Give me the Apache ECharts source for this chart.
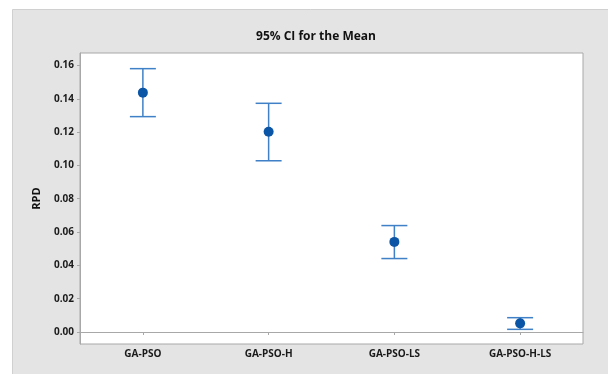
<!DOCTYPE html>
<html>
<head>
<meta charset="utf-8">
<script src="https://cdn.jsdelivr.net/npm/echarts@6/dist/echarts.min.js"></script>
<style>
  html, body { margin: 0; padding: 0; background: #ffffff; }
  #chart { width: 608px; height: 374px; }
</style>
</head>
<body>
<div id="chart"></div>
<script>
// Interval plot: mean RPD with 95% confidence interval per algorithm
const categories = ['GA-PSO', 'GA-PSO-H', 'GA-PSO-LS', 'GA-PSO-H-LS'];
const means = [0.1437, 0.1202, 0.0541, 0.0052];
const lowerCI = [0.1293, 0.1028, 0.0441, 0.0016];
const upperCI = [0.1581, 0.1373, 0.0639, 0.0086];
const yTicks = [0.00, 0.02, 0.04, 0.06, 0.08, 0.10, 0.12, 0.14, 0.16];

const FONT = '"Open Sans", "Noto Sans", sans-serif';
const chart = echarts.init(document.getElementById('chart'), null, { renderer: 'canvas' });

const intervalData = categories.map((c, i) => [i, lowerCI[i], upperCI[i]]);
const meanData = categories.map((c, i) => [i, means[i]]);

chart.setOption({
  animation: false,
  backgroundColor: '#ffffff',
  graphic: [{
    type: 'rect',
    z: -10,
    silent: true,
    shape: { x: 12.5, y: 9.5, width: 600, height: 370 },
    style: { fill: '#e4e4e4', stroke: '#d0d0d0', lineWidth: 1 }
  }],
  title: {
    text: '95% CI for the Mean',
    left: 311,
    textAlign: 'center',
    top: 26,
    textStyle: { fontFamily: FONT, fontSize: 12, fontWeight: 'bold', color: '#111' }
  },
  grid: {
    left: 80, top: 53, right: 25, bottom: 30,
    show: true,
    backgroundColor: '#ffffff',
    borderColor: '#a8a8a8',
    borderWidth: 1
  },
  xAxis: {
    type: 'category',
    data: categories,
    axisLine: { show: true, lineStyle: { color: '#a8a8a8' } },
    axisTick: { show: true, alignWithLabel: true, length: 3, lineStyle: { color: '#a8a8a8' } },
    axisLabel: { fontFamily: FONT, fontSize: 10, fontWeight: 'bold', color: '#1a1a1a', margin: 5 },
    splitLine: { show: false }
  },
  yAxis: {
    type: 'value',
    min: -0.0072,
    max: 0.1675,
    name: 'RPD',
    nameLocation: 'middle',
    nameGap: 38,
    nameRotate: 90,
    nameTextStyle: { fontFamily: FONT, fontSize: 11, fontWeight: 'bold', color: '#111' },
    axisLine: { show: true, lineStyle: { color: '#a8a8a8' } },
    axisTick: { show: true, length: 3, customValues: yTicks, lineStyle: { color: '#a8a8a8' } },
    axisLabel: {
      customValues: yTicks,
      fontFamily: FONT, fontSize: 10, fontWeight: 'bold', color: '#1a1a1a', margin: 6,
      formatter: v => v.toFixed(2)
    },
    splitLine: { show: false }
  },
  series: [
    {
      type: 'custom',
      name: '95% CI',
      data: intervalData,
      encode: { x: 0, y: [1, 2] },
      renderItem: function (params, api) {
        const x = api.value(0);
        const lo = api.coord([x, api.value(1)]);
        const hi = api.coord([x, api.value(2)]);
        const half = 13;
        const style = { stroke: '#3f80c6', lineWidth: 1.5 };
        return {
          type: 'group',
          children: [
            { type: 'line', shape: { x1: lo[0], y1: lo[1], x2: hi[0], y2: hi[1] }, style: style },
            { type: 'line', shape: { x1: hi[0] - half, y1: hi[1], x2: hi[0] + half, y2: hi[1] }, style: style },
            { type: 'line', shape: { x1: lo[0] - half, y1: lo[1], x2: lo[0] + half, y2: lo[1] }, style: style }
          ]
        };
      }
    },
    {
      type: 'scatter',
      name: 'Mean',
      data: meanData,
      symbol: 'circle',
      symbolSize: 10,
      itemStyle: { color: '#0b55a6', opacity: 1 },
      z: 5
    }
  ]
});
</script>
</body>
</html>
